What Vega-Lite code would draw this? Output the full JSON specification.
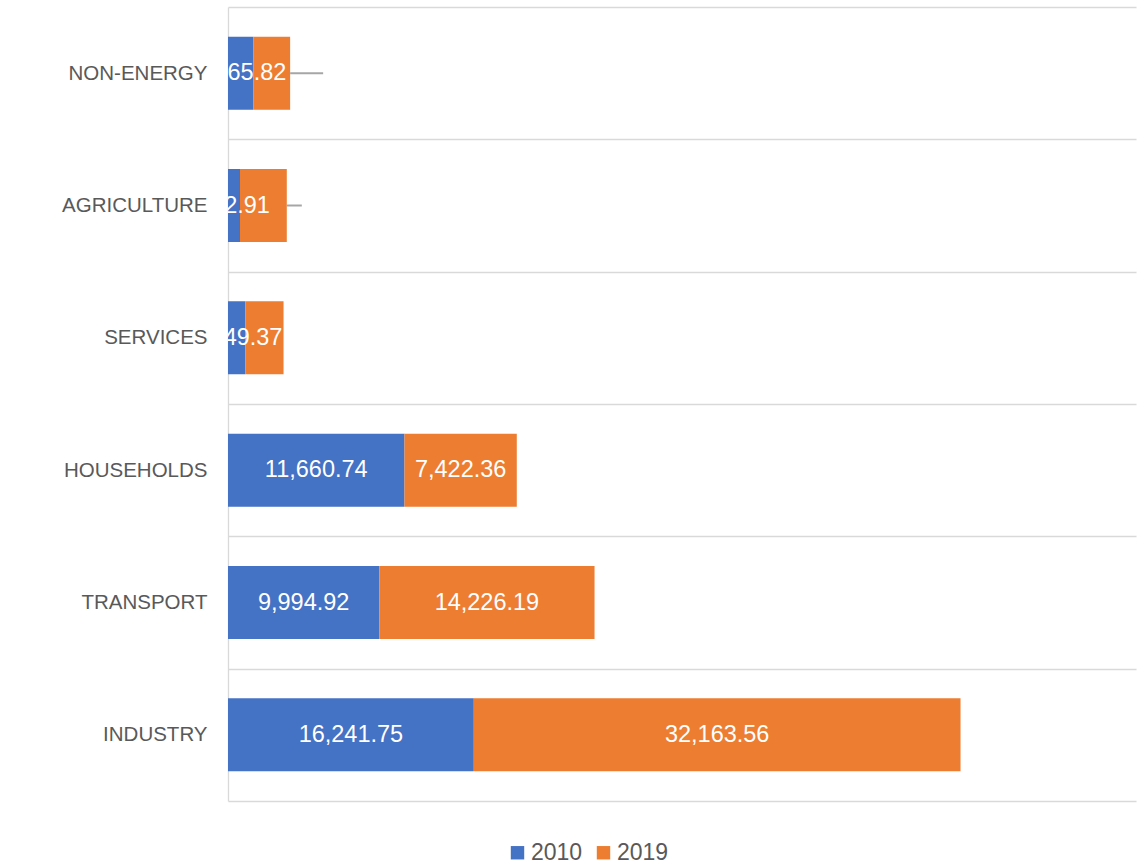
{
  "$schema": "https://vega.github.io/schema/vega-lite/v6.json",
  "width": 908,
  "height": 794,
  "autosize": {"type": "none"},
  "padding": {"left": 228, "top": 7, "right": 9, "bottom": 63},
  "background": "white",
  "config": {
    "view": {"stroke": null},
    "font": "Liberation Sans"
  },
  "data": {
    "values": [
      {"sector": "NON-ENERGY", "year": "2010", "value": 1665.82},
      {"sector": "NON-ENERGY", "year": "2019", "value": 2440.5},
      {"sector": "AGRICULTURE", "year": "2010", "value": 792.91},
      {"sector": "AGRICULTURE", "year": "2019", "value": 3092.65},
      {"sector": "SERVICES", "year": "2010", "value": 1149.37},
      {"sector": "SERVICES", "year": "2019", "value": 2520.4},
      {"sector": "HOUSEHOLDS", "year": "2010", "value": 11660.74},
      {"sector": "HOUSEHOLDS", "year": "2019", "value": 7422.36},
      {"sector": "TRANSPORT", "year": "2010", "value": 9994.92},
      {"sector": "TRANSPORT", "year": "2019", "value": 14226.19},
      {"sector": "INDUSTRY", "year": "2010", "value": 16241.75},
      {"sector": "INDUSTRY", "year": "2019", "value": 32163.56}
    ]
  },
  "encoding": {
    "y": {
      "field": "sector",
      "type": "nominal",
      "sort": ["NON-ENERGY", "AGRICULTURE", "SERVICES", "HOUSEHOLDS", "TRANSPORT", "INDUSTRY"],
      "scale": {"paddingInner": 0, "paddingOuter": 0},
      "axis": {
        "title": null,
        "ticks": false,
        "tickBand": "extent",
        "grid": true,
        "gridColor": "#D9D9D9",
        "gridWidth": 1.3,
        "domainColor": "#D9D9D9",
        "domainWidth": 1.3,
        "labelColor": "#595959",
        "labelFontSize": 20.5,
        "labelPadding": 21,
        "labelFont": "Liberation Sans"
      }
    }
  },
  "layer": [
    {
      "mark": {"type": "bar", "height": {"band": 0.552}},
      "encoding": {
        "x": {
          "field": "value",
          "type": "quantitative",
          "stack": "zero",
          "scale": {"domain": [0, 60000], "nice": false},
          "axis": null
        },
        "order": {"field": "year", "type": "ordinal", "sort": "ascending"},
        "color": {
          "field": "year",
          "type": "nominal",
          "scale": {"domain": ["2010", "2019"], "range": ["#4472C4", "#ED7D31"]},
          "legend": {
            "title": null,
            "orient": "none",
            "direction": "horizontal",
            "legendX": 278,
            "legendY": 834,
            "symbolType": "square",
            "symbolSize": 180,
            "symbolStrokeWidth": 0,
            "labelFontSize": 23,
            "labelColor": "#595959",
            "labelOffset": 2,
            "columnPadding": 9
          }
        }
      }
    },
    {
      "transform": [
        {"filter": "datum.sector == 'NON-ENERGY'"},
        {"aggregate": [{"op": "sum", "field": "value", "as": "total"}], "groupby": ["sector"]}
      ],
      "mark": {"type": "rule", "color": "#A6A6A6", "strokeWidth": 2, "x2Offset": 33},
      "encoding": {
        "x": {"field": "total", "type": "quantitative"},
        "x2": {"field": "total"}
      }
    },
    {
      "transform": [
        {"filter": "datum.sector == 'AGRICULTURE'"},
        {"aggregate": [{"op": "sum", "field": "value", "as": "total"}], "groupby": ["sector"]}
      ],
      "mark": {"type": "rule", "color": "#A6A6A6", "strokeWidth": 2, "x2Offset": 15},
      "encoding": {
        "x": {"field": "total", "type": "quantitative"},
        "x2": {"field": "total"}
      }
    },
    {
      "transform": [{"filter": "datum.year == '2010' || datum.value > 5000"}],
      "mark": {"type": "text", "color": "white", "fontSize": 23.5, "clip": true, "baseline": "middle"},
      "encoding": {
        "x": {
          "field": "value",
          "type": "quantitative",
          "stack": "zero",
          "bandPosition": 0.5
        },
        "order": {"field": "year", "type": "ordinal", "sort": "ascending"},
        "detail": {"field": "year"},
        "text": {"field": "value", "type": "quantitative", "format": ",.2f"}
      }
    }
  ]
}
